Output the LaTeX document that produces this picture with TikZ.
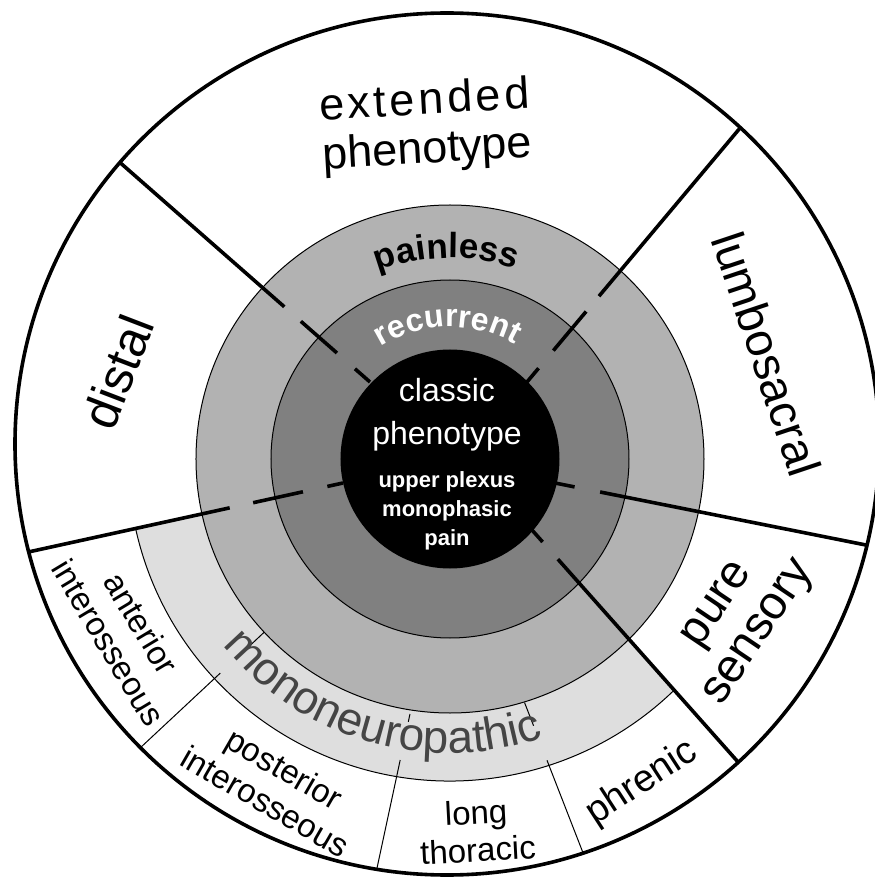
\documentclass[tikz,border=0pt]{standalone}
\usepackage{fontspec}
\setmainfont{Liberation Sans}
\usetikzlibrary{decorations.text}

\definecolor{painlessgray}{gray}{0.70}
\definecolor{recurrentgray}{gray}{0.50}
\definecolor{monogray}{gray}{0.87}
\definecolor{monotext}{gray}{0.27}

\tikzset{
  divider/.style={line width=3.6pt},
  ringline/.style={line width=1pt},
  sublabel/.style={align=center, inner sep=0pt, font=\fontsize{33}{38}\selectfont},
  biglabel/.style={align=center, inner sep=0pt, font=\fontsize{47}{50}\selectfont},
  corelabel/.style={anchor=base, inner sep=0pt, text=white}
}

\begin{document}
\begin{tikzpicture}[x=1pt, y=1pt]
    \useasboundingbox (-450,-422) rectangle (425,459);
    \fill[white] (-450,-422) rectangle (425,459);
    \coordinate (C) at (0,0);
    \coordinate (O) at (-3,15);

    % mononeuropathic sector
    \fill[monogray] (C) -- (192.5:322) arc[start angle=192.5, end angle=314.4, radius=322] -- cycle;
    \draw[ringline] (192.5:322) arc[start angle=192.5, end angle=314.4, radius=322];

    % rings
    \filldraw[fill=painlessgray, ringline] (C) circle (254);
    \filldraw[fill=recurrentgray, ringline] (C) circle (179);
    \fill[black] (C) circle (109.5);

    \begin{scope}
        \clip (O) ellipse [x radius=432, y radius=431];
        % thin lines of the lower sector
        \draw[ringline] (-185.8,-173.2) -- (-200.4,-186.9);
        \draw[ringline] (-229.7,-214.1) -- (-336.4,-313.7);
        \draw[ringline] (-40,-255) -- (-41.7,-262.8);
        \draw[ringline] (-49.8,-301) -- (-81.9,-450.6);
        \draw[ringline] (74.5,-243.5) -- (83.6,-266.8);
        \draw[ringline] (97,-301.3) -- (154.3,-448.5);
        % dividers
        \draw[divider, dash pattern=on 20pt off 24pt on 48pt off 22pt on 1000pt off 1pt] (-80,77) -- (-350,314);
        \draw[divider, dash pattern=on 18pt off 23pt on 51pt off 20pt on 1000pt off 1pt] (77,77) -- (306,350);
        \draw[divider, dash pattern=on 20pt off 26pt on 1000pt off 1pt] (105,-24) -- (446,-92);
        \draw[divider, dash pattern=on 16pt off 23pt on 1000pt off 1pt] (82,-71) -- (312,-330);
        \draw[divider, dash pattern=on 16pt off 25pt on 51pt off 24pt on 1000pt off 1pt] (-107,-24) -- (-449,-99);
    \end{scope}
    \draw[divider] (O) ellipse [x radius=432, y radius=431];

    % curved ring labels
    \path[decorate, decoration={text along path, text align=center,
        text={|\fontsize{35}{40}\selectfont\bfseries|painless}}]
        (135:201) arc[start angle=135, end angle=47, radius=201];
    \path[decorate, decoration={text along path, text align=center, text color=white,
        text={|\fontsize{32}{36}\selectfont\bfseries|recurrent}}]
        (150:132) arc[start angle=150, end angle=32, radius=132];
    \path[decorate, decoration={text along path, text align=center, text color=monotext,
        text={|\fontsize{46}{50}\selectfont|mononeuropathic}}]
        (200:294) arc[start angle=200, end angle=308, radius=294];

    % centre
    \node[corelabel, font=\fontsize{32}{36}\selectfont] (classic) at (-3,57) {classic};
    \node[corelabel, font=\fontsize{32}{36}\selectfont] (pheno) at (-3,14) {phenotype};
    \node[corelabel, font=\fontsize{22}{26}\selectfont\bfseries] (upper) at (-3,-28) {upper plexus};
    \node[corelabel, font=\fontsize{22}{26}\selectfont\bfseries] (monophasic) at (-3,-57) {monophasic};
    \node[corelabel, font=\fontsize{22}{26}\selectfont\bfseries] (pain) at (-3,-86) {pain};

    % outer sectors
    \node[biglabel, font=\fontsize{45}{49}\selectfont, rotate=3.3] (extended) at (-24,332)
        {{\addfontfeature{LetterSpace=8}extended}\\phenotype};
    \node[biglabel, font=\fontsize{50}{54}\selectfont, rotate=69] (distal) at (-332,87) {distal};
    \node[biglabel, rotate=-71.5] (lumbo) at (317,105) {lumbosacral};
    \node[biglabel, rotate=56] (pure) at (290,-161) {pure\\sensory};
    \node[sublabel, rotate=-59] (anterior) at (-325,-174) {anterior\\interosseous};
    \node[sublabel, rotate=-30] (posterior) at (-175,-326) {posterior\\interosseous};
    \node[sublabel, rotate=3] (long) at (27,-372) {long\\thoracic};
    \node[sublabel, font=\fontsize{38}{42}\selectfont, rotate=33] (phrenic) at (192,-324) {phrenic};
\end{tikzpicture}
\end{document}
